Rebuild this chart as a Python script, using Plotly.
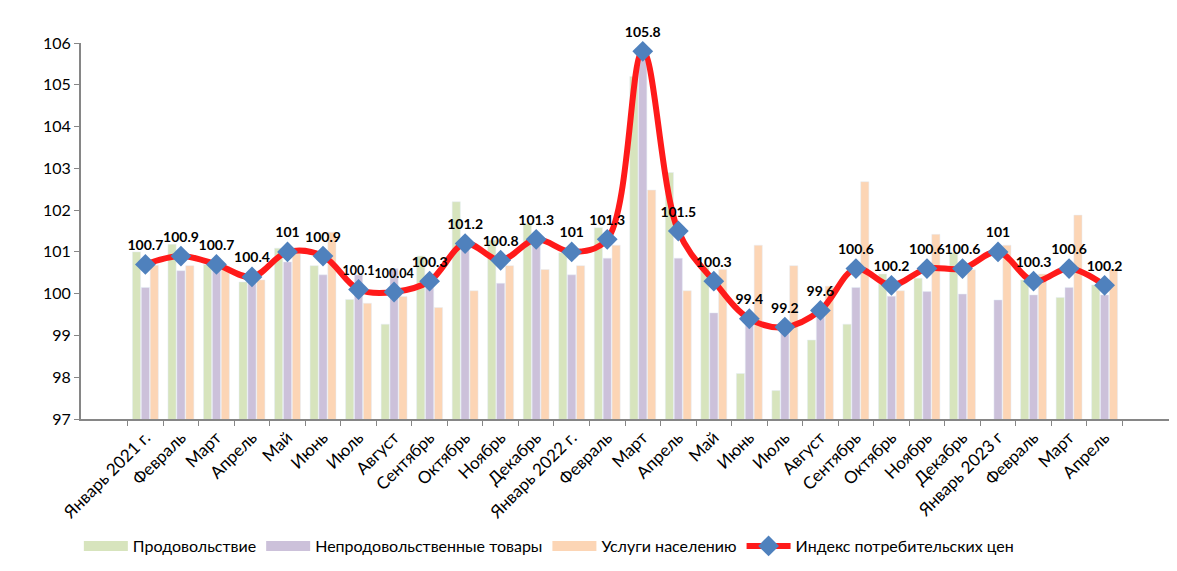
import plotly.graph_objects as go

months = ["Январь 2021 г.", "Февраль", "Март", "Апрель", "Май", "Июнь", "Июль", "Август",
          "Сентябрь", "Октябрь", "Ноябрь", "Декабрь", "Январь 2022 г.", "Февраль", "Март",
          "Апрель", "Май", "Июнь", "Июль", "Август", "Сентябрь", "Октябрь", "Ноябрь",
          "Декабрь", "Январь 2023 г", "Февраль", "Март", "Апрель"]
# unique category keys (months repeat)
cat_keys = [f"{i}" for i in range(len(months))]

food = [101.0, 101.18, 100.7, 100.28, 101.09, 100.67, 99.86, 99.27, 100.9, 102.2, 101.28, 101.68,
        100.98, 101.58, 105.2, 102.9, 100.65, 98.09, 97.68, 98.89, 99.27, 100.47, 100.37, 100.98,
        96.9, 100.33, 99.91, 100.21]
nonfood = [100.15, 100.55, 100.6, 100.4, 100.76, 100.45, 100.45, 100.6, 100.3, 101.2, 100.25, 101.3,
           100.45, 100.85, 105.7, 100.85, 99.54, 99.3, 99.2, 99.6, 100.15, 99.94, 100.05, 99.99,
           99.85, 99.97, 100.15, 99.97]
services = [100.68, 100.67, 100.65, 100.33, 101.0, 101.47, 99.77, 99.93, 99.67, 100.07, 100.67, 100.58,
            100.67, 101.16, 102.48, 100.07, 100.58, 101.16, 100.67, 100.18, 102.68, 100.07, 101.42, 100.57,
            101.16, 100.47, 101.88, 100.58]
cpi = [100.7, 100.9, 100.7, 100.4, 101, 100.9, 100.1, 100.04, 100.3, 101.2, 100.8, 101.3, 101, 101.3,
       105.8, 101.5, 100.3, 99.4, 99.2, 99.6, 100.6, 100.2, 100.6, 100.6, 101, 100.3, 100.6, 100.2]
cpi_labels = ["100.7", "100.9", "100.7", "100.4", "101", "100.9", "100.1", "100.04", "100.3", "101.2",
              "100.8", "101.3", "101", "101.3", "105.8", "101.5", "100.3", "99.4", "99.2", "99.6",
              "100.6", "100.2", "100.6", "100.6", "101", "100.3", "100.6", "100.2"]
y_ticks = [97, 98, 99, 100, 101, 102, 103, 104, 105, 106]

series_names = ["Продовольствие", "Непродовольственные товары", "Услуги населению"]
series_colors = ["#d7e4bd", "#ccc1da", "#fcd5b5"]
series_values = [food, nonfood, services]

FONT = "Lato, 'Noto Sans', sans-serif"

# slightly smaller text for the two crowded neighbouring labels
label_sizes = [12.5 if lab in ("100.1", "100.04") else 14 for lab in cpi_labels]

fig = go.Figure()
for name, color, vals in zip(series_names, series_colors, series_values):
    fig.add_trace(go.Bar(x=cat_keys, y=vals, name=name, marker_color=color,
                         showlegend=False, legendgroup=name))
    # wide rectangular legend swatch
    fig.add_trace(go.Scatter(x=[None], y=[None], mode="lines", name=name, legendgroup=name,
                             line=dict(color=color, width=14)))

fig.add_trace(go.Scatter(
    x=cat_keys, y=cpi, name="Индекс потребительских цен",
    mode="lines+markers+text",
    line=dict(color="#ff1a1a", width=6, shape="spline", smoothing=1.0),
    marker=dict(symbol="diamond", size=16, color="#4f81bd"),
    text=cpi_labels, textposition="top center",
    textfont=dict(family=FONT, size=label_sizes, color="#000000", weight="bold"),
    cliponaxis=False,
))

fig.update_layout(
    width=1161, height=555,
    margin=dict(l=73, r=0, t=35, b=144),
    paper_bgcolor="white", plot_bgcolor="white",
    barmode="group", bargap=0.25, bargroupgap=0.08,
    font=dict(family=FONT, size=16, color="#000000"),
    showlegend=True,
    legend=dict(orientation="h", x=0.43, xanchor="center",
                yref="container", y=0.0, yanchor="bottom",
                font=dict(family=FONT, size=16), itemwidth=44, traceorder="normal"),
)
fig.update_xaxes(
    type="category", tickmode="array", tickvals=cat_keys, ticktext=months,
    tickangle=-45, tickfont=dict(family=FONT, size=17),
    showline=True, linecolor="#868686", linewidth=2,
    ticks="outside", tickson="boundaries", ticklen=5, tickcolor="#868686",
    showgrid=False, automargin=False,
)
fig.update_yaxes(
    range=[97, 106], tickvals=y_ticks, tickfont=dict(family=FONT, size=16),
    showline=True, linecolor="#868686", linewidth=2,
    ticks="outside", ticklen=5, tickcolor="#868686",
    showgrid=False, zeroline=False, automargin=False,
)

fig.write_html("out.html")
